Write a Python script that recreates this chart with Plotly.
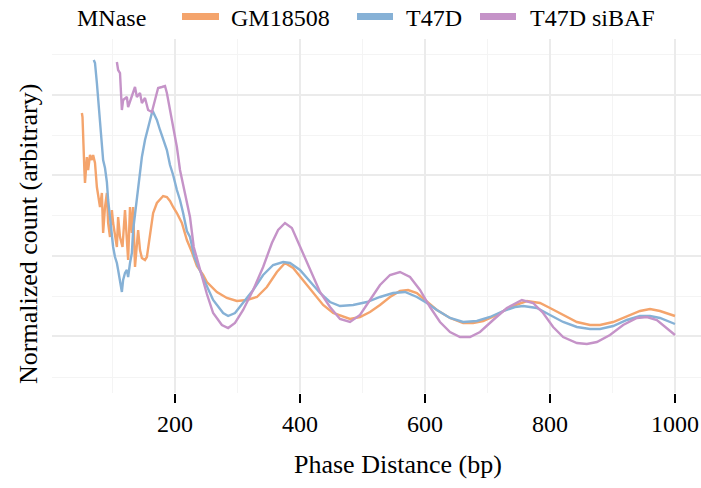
import plotly.graph_objects as go

# GM18508
gm_x = [51, 52, 55, 56, 59, 61, 64, 67, 69, 72, 75, 80, 83, 85, 88, 91, 93, 96, 99, 101, 107, 109, 112, 116,
        120, 123, 125, 128, 131, 133, 136, 141, 144, 147, 152, 155, 160, 165, 171, 176, 181, 187, 192, 197,
        203, 211, 219, 227, 235, 245, 251, 267, 283, 299, 315, 331, 347, 363, 376, 389, 405, 421, 437, 453,
        469, 480, 496, 512, 528, 544, 560, 573, 587, 603, 619, 640, 661, 677, 693, 715, 736, 763, 784, 800,
        821, 843, 864, 880, 901, 923, 944, 960, 976, 1000]
gm_y = [264, 260, 207, 194, 220, 207, 222, 217, 222, 214, 190, 170, 184, 144, 170, 184, 154, 140, 167, 154,
        130, 160, 140, 130, 167, 140, 117, 170, 144, 170, 110, 147, 127, 119, 117, 120, 140, 164, 174, 177,
        181, 180, 176, 170, 164, 154, 137, 125, 111, 102, 95, 85, 79, 76, 77, 80, 90, 105, 114, 109, 97, 84,
        72, 64, 60, 58, 60, 65, 72, 80, 86, 87, 84, 75, 67, 59, 54, 54, 56, 62, 70, 76, 74, 69, 62, 55, 52,
        52, 55, 61, 66, 68, 66, 61]

# T47D
t_x = [70, 72, 75, 77, 80, 83, 85, 88, 91, 93, 96, 99, 101, 104, 107, 109, 112, 115, 117, 120, 123, 125,
       128, 131, 133, 139, 141, 144, 147, 152, 157, 163, 165, 171, 176, 181, 187, 192, 197, 203, 208, 213,
       219, 224, 231, 245, 261, 277, 285, 296, 309, 325, 341, 357, 373, 384, 400, 416, 432, 448, 464, 485,
       507, 528, 549, 568, 587, 603, 619, 640, 661, 683, 704, 725, 744, 757, 779, 800, 821, 843, 864, 880,
       901, 923, 944, 960, 976, 1000]
t_y = [317, 314, 294, 277, 254, 227, 217, 209, 195, 177, 160, 144, 130, 120, 114, 107, 94, 85, 97, 104, 107,
       100, 114, 124, 147, 177, 192, 204, 220, 237, 250, 264, 265, 257, 247, 237, 227, 212, 202, 187, 177,
       164, 146, 140, 120, 99, 77, 64, 61, 64, 74, 87, 102, 112, 115, 114, 107, 95, 84, 75, 71, 72, 75, 80,
       84, 85, 80, 74, 67, 59, 55, 56, 60, 66, 70, 71, 69, 62, 55, 50, 48, 48, 51, 57, 61, 61, 59, 53]

# T47D siBAF
s_x = [107, 109, 112, 115, 117, 123, 125, 131, 136, 139, 144, 147, 152, 157, 163, 168, 173, 179, 184, 187,
       192, 197, 203, 208, 216, 224, 230, 240, 251, 261, 275, 285, 296, 309, 325, 341, 355, 365, 376, 387,
       400, 416, 432, 448, 464, 480, 496, 512, 528, 544, 560, 576, 592, 608, 624, 640, 656, 672, 688, 709,
       731, 755, 773, 789, 805, 821, 843, 859, 875, 896, 917, 939, 955, 971, 987, 1000]
s_y = [315, 307, 304, 267, 277, 280, 270, 282, 290, 280, 284, 274, 279, 267, 265, 277, 289, 290, 291, 284,
       267, 250, 230, 207, 185, 160, 130, 107, 83, 64, 52, 49, 54, 67, 87, 110, 134, 147, 154, 149, 130, 107,
       85, 70, 58, 55, 62, 77, 92, 102, 105, 100, 87, 70, 55, 45, 40, 40, 45, 57, 69, 77, 74, 64, 50, 40,
       34, 33, 35, 42, 52, 59, 60, 57, 49, 42]

names = ["GM18508", "T47D", "T47D siBAF"]
colors = ["#F4A46C", "#86B1D6", "#C593C8"]
xs = [gm_x, t_x, s_x]
ys = [gm_y, t_y, s_y]

x_ticks = [200, 400, 600, 800, 1000]

FONT = "Liberation Serif"
W, H = 701, 488
ML, MR, MT, MB = 52, 0, 39, 95
PW, PH = W - ML - MR, H - MT - MB


def px(x):
    return (x - ML) / PW


def py(y):
    return (H - MB - y) / PH


fig = go.Figure()
for name, c, x, y in zip(names, colors, xs, ys):
    fig.add_trace(go.Scatter(x=x, y=y, mode="lines", name=name,
                             line=dict(color=c, width=2.4), showlegend=False))

# manual legend (layout placement in paper coordinates)
annots = [dict(text="MNase", x=px(75), y=py(18), xanchor="left")]
swatches = [(182, 219, 229), (357, 393, 404), (480, 516, 528)]
shapes = []
for (x0, x1, tx), name, c in zip(swatches, names, colors):
    shapes.append(dict(type="rect", xref="paper", yref="paper", x0=px(x0), x1=px(x1),
                       y0=py(20), y1=py(13), fillcolor=c, line=dict(width=0), layer="above"))
    annots.append(dict(text=name, x=px(tx), y=py(18), xanchor="left"))
for a in annots:
    a.update(xref="paper", yref="paper", yanchor="middle", showarrow=False,
             font=dict(family=FONT, size=24, color="black"))
# axis titles
annots.append(dict(text="Phase Distance (bp)", x=px(398), y=py(465), xref="paper", yref="paper",
                   xanchor="center", yanchor="middle", showarrow=False,
                   font=dict(family=FONT, size=26, color="black")))
annots.append(dict(text="Normalized count (arbitrary)", x=px(28), y=py(234), xref="paper", yref="paper",
                   xanchor="center", yanchor="middle", showarrow=False, textangle=-90,
                   font=dict(family=FONT, size=26, color="black")))

fig.update_layout(
    width=W, height=H,
    margin=dict(l=ML, r=MR, t=MT, b=MB, autoexpand=False),
    paper_bgcolor="white", plot_bgcolor="white",
    font=dict(family=FONT, size=24, color="black"),
    showlegend=False,
    annotations=annots, shapes=shapes,
    xaxis=dict(range=[3.2, 1041.6], tickvals=x_ticks, ticktext=[str(v) for v in x_ticks],
               showgrid=True, gridcolor="#EBEBEB", gridwidth=1.6,
               minor=dict(dtick=100, tick0=0, showgrid=True, gridcolor="#F4F4F4", gridwidth=1.4),
               ticks="outside", ticklen=9, tickwidth=2, tickcolor="black",
               tickfont=dict(size=24), zeroline=False, showline=False, automargin=False),
    yaxis=dict(range=[-16, 338], tick0=40.6, dtick=80.6, showticklabels=False,
               showgrid=True, gridcolor="#EBEBEB", gridwidth=1.6,
               minor=dict(dtick=40.3, tick0=0, showgrid=True, gridcolor="#F4F4F4", gridwidth=1.4),
               zeroline=False, showline=False, ticks="", automargin=False),
)

fig.write_html("out.html", config={"displayModeBar": False},
               post_script="document.body.style.margin='0';document.body.style.overflow='hidden';")
